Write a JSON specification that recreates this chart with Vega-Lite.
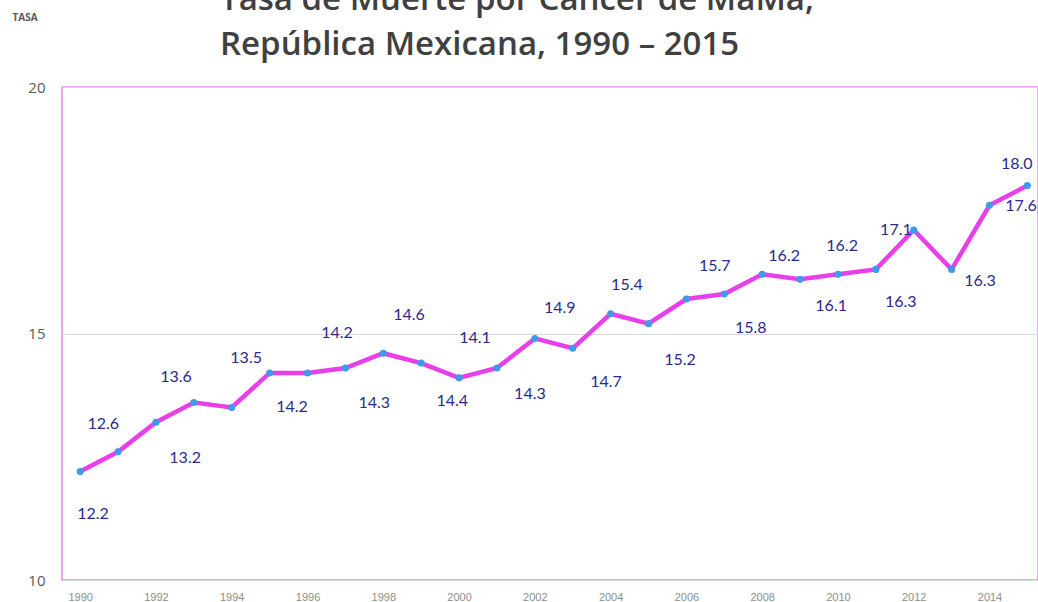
{
  "$schema": "https://vega.github.io/schema/vega-lite/v6.json",
  "autosize": {"type": "none"},
  "width": 976,
  "height": 493,
  "padding": {"left": 62, "top": 87, "right": 0, "bottom": 22},
  "background": "white",
  "title": {
    "text": "Tasa de Muerte por Cáncer de MaMa,",
    "subtitle": "República Mexicana, 1990 – 2015",
    "anchor": "start",
    "frame": "group",
    "dx": 158,
    "offset": -50,
    "font": "Open Sans",
    "fontSize": 33,
    "fontWeight": 600,
    "color": "#404040",
    "subtitleFont": "Open Sans",
    "subtitleFontSize": 33,
    "subtitleFontWeight": 600,
    "subtitleColor": "#404040",
    "subtitlePadding": 12
  },
  "config": {
    "view": {"stroke": "#e38ce8", "strokeWidth": 1.5},
    "axis": {"domain": false, "ticks": false}
  },
  "datasets": {
    "serie": [
      {"anio": 1990, "tasa": 12.2}, {"anio": 1991, "tasa": 12.6}, {"anio": 1992, "tasa": 13.2},
      {"anio": 1993, "tasa": 13.6}, {"anio": 1994, "tasa": 13.5}, {"anio": 1995, "tasa": 14.2},
      {"anio": 1996, "tasa": 14.2}, {"anio": 1997, "tasa": 14.3}, {"anio": 1998, "tasa": 14.6},
      {"anio": 1999, "tasa": 14.4}, {"anio": 2000, "tasa": 14.1}, {"anio": 2001, "tasa": 14.3},
      {"anio": 2002, "tasa": 14.9}, {"anio": 2003, "tasa": 14.7}, {"anio": 2004, "tasa": 15.4},
      {"anio": 2005, "tasa": 15.2}, {"anio": 2006, "tasa": 15.7}, {"anio": 2007, "tasa": 15.8},
      {"anio": 2008, "tasa": 16.2}, {"anio": 2009, "tasa": 16.1}, {"anio": 2010, "tasa": 16.2},
      {"anio": 2011, "tasa": 16.3}, {"anio": 2012, "tasa": 17.1}, {"anio": 2013, "tasa": 16.3},
      {"anio": 2014, "tasa": 17.6}, {"anio": 2015, "tasa": 18.0}
    ],
    "etiquetas": [
      {"texto": "12.2", "lx": 1990.34, "ly": 11.34},
      {"texto": "12.6", "lx": 1990.61, "ly": 13.16},
      {"texto": "13.2", "lx": 1992.77, "ly": 12.47},
      {"texto": "13.6", "lx": 1992.53, "ly": 14.12},
      {"texto": "13.5", "lx": 1994.38, "ly": 14.50},
      {"texto": "14.2", "lx": 1995.59, "ly": 13.51},
      {"texto": "14.2", "lx": 1996.78, "ly": 15.01},
      {"texto": "14.3", "lx": 1997.76, "ly": 13.59},
      {"texto": "14.6", "lx": 1998.68, "ly": 15.38},
      {"texto": "14.4", "lx": 1999.82, "ly": 13.63},
      {"texto": "14.1", "lx": 2000.42, "ly": 14.91},
      {"texto": "14.3", "lx": 2001.87, "ly": 13.77},
      {"texto": "14.9", "lx": 2002.66, "ly": 15.52},
      {"texto": "14.7", "lx": 2003.88, "ly": 14.02},
      {"texto": "15.4", "lx": 2004.43, "ly": 15.98},
      {"texto": "15.2", "lx": 2005.83, "ly": 14.46},
      {"texto": "15.7", "lx": 2006.75, "ly": 16.37},
      {"texto": "15.8", "lx": 2007.70, "ly": 15.11},
      {"texto": "16.2", "lx": 2008.58, "ly": 16.57},
      {"texto": "16.1", "lx": 2009.82, "ly": 15.56},
      {"texto": "16.2", "lx": 2010.11, "ly": 16.77},
      {"texto": "16.3", "lx": 2011.66, "ly": 15.64},
      {"texto": "17.1", "lx": 2011.53, "ly": 17.10},
      {"texto": "16.3", "lx": 2013.75, "ly": 16.06},
      {"texto": "18.0", "lx": 2014.72, "ly": 18.44},
      {"texto": "17.6", "lx": 2014.83, "ly": 17.59}
    ]
  },
  "layer": [
    {
      "data": {"name": "serie"},
      "mark": {"type": "line", "color": "#e83fe8", "strokeWidth": 4.5},
      "encoding": {
        "x": {
          "field": "anio", "type": "quantitative",
          "scale": {"domain": [1989.52, 2015.28], "nice": false, "zero": false},
          "axis": {
            "title": null, "values": [1990, 1992, 1994, 1996, 1998, 2000, 2002, 2004, 2006, 2008, 2010, 2012, 2014],
            "format": "d", "grid": false, "labelFont": "Liberation Sans", "labelFontSize": 11,
            "labelColor": "#8a8f8a", "labelPadding": 11
          }
        },
        "y": {
          "field": "tasa", "type": "quantitative",
          "scale": {"domain": [10, 20], "nice": false, "zero": false},
          "axis": {
            "title": "TASA", "titleAngle": 0, "titleX": -50, "titleY": -70, "titleAlign": "left",
            "titleBaseline": "middle", "titleFont": "Open Sans", "titleFontSize": 10, "titleFontWeight": "bold",
            "titleColor": "#595959",
            "values": [10, 15, 20], "grid": true, "gridColor": "#d9d9d9", "gridWidth": 1,
            "labelFont": "Open Sans", "labelFontSize": 15, "labelColor": "#595959", "labelPadding": 17
          }
        }
      }
    },
    {
      "data": {"name": "serie"},
      "mark": {"type": "circle", "color": "#3d9be9", "opacity": 1, "size": 50},
      "encoding": {
        "x": {"field": "anio", "type": "quantitative"},
        "y": {"field": "tasa", "type": "quantitative"}
      }
    },
    {
      "data": {"name": "etiquetas"},
      "mark": {"type": "text", "font": "Lato", "fontSize": 16, "color": "#2b2a8a", "align": "center", "baseline": "middle"},
      "encoding": {
        "x": {"field": "lx", "type": "quantitative"},
        "y": {"field": "ly", "type": "quantitative"},
        "text": {"field": "texto"}
      }
    }
  ]
}
